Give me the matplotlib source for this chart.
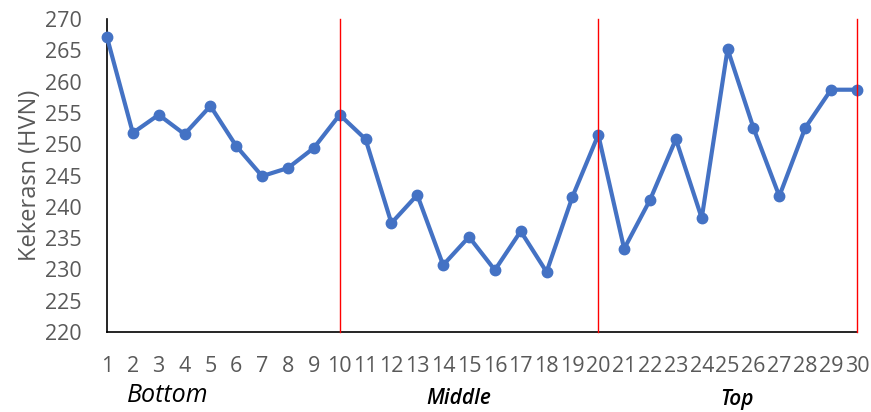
import numpy as np
import matplotlib
matplotlib.use('Agg')
import matplotlib.pyplot as plt

# hardness readings along the specimen
points = list(range(1, 31))
hardness = [267.1, 251.8, 254.7, 251.6, 256.1, 249.7, 244.9, 246.2, 249.4, 254.7,
            250.8, 237.4, 241.9, 230.7, 235.2, 229.9, 236.1, 229.6, 241.6, 251.5,
            233.3, 241.1, 250.8, 238.2, 265.2, 252.6, 241.7, 252.6, 258.7, 258.7]
section_edges = [10, 20, 30]
y_ticks = list(range(220, 271, 5))

plt.rcParams['font.family'] = ['Open Sans', 'DejaVu Sans']
gray = '#595959'

fig = plt.figure(figsize=(8.71, 4.12), dpi=100)
ax = fig.add_axes([0.1228, 0.194, 0.861, 0.760])

ax.plot(points, hardness, '-o', color='#4472C4', lw=3.0, markersize=7.5,
        zorder=3, clip_on=False)
for x in section_edges:
    ax.axvline(x, color='red', lw=1.0, zorder=4, clip_on=False)

ax.set_xlim(1, 30)
ax.set_ylim(220, 270)
ax.set_xticks(points)
ax.set_yticks(y_ticks)
ax.tick_params(length=0, labelsize=15.5, colors=gray)
ax.tick_params(axis='x', pad=17)
ax.tick_params(axis='y', pad=18)
for s in ['top', 'right']:
    ax.spines[s].set_visible(False)
for s in ['left', 'bottom']:
    ax.spines[s].set_color('black')
    ax.spines[s].set_linewidth(1.2)

ax.set_ylabel('Kekerasn (HVN)', fontsize=17, color=gray, labelpad=2)

fig.text(0.193, 0.048, 'Bottom', fontsize=18, style='italic', ha='center', va='center_baseline')
fig.text(0.527, 0.040, 'Middle', fontsize=15, style='italic', weight='semibold', ha='center', va='center_baseline')
fig.text(0.846, 0.036, 'Top', fontsize=15, style='italic', weight='semibold', ha='center', va='center_baseline')

fig.savefig('out.png', dpi=100)
